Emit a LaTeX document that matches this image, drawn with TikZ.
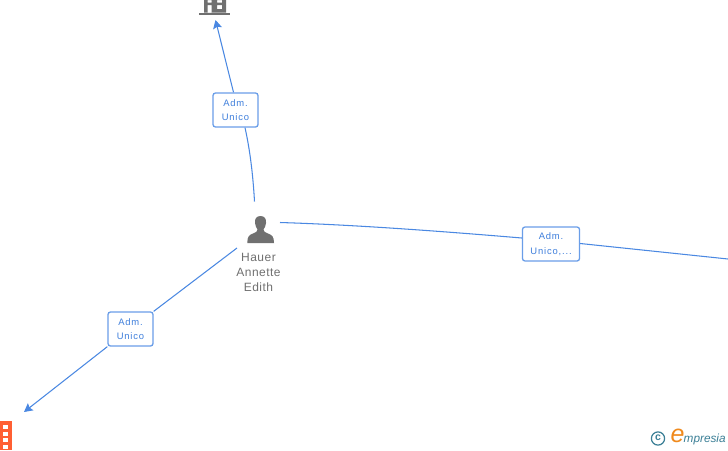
\documentclass[tikz,border=0pt]{standalone}
\usepackage{fontspec}
\setmainfont{Liberation Sans}
\definecolor{linkblue}{HTML}{4A88E2}
\definecolor{boxblue}{HTML}{6A9EE8}
\definecolor{textblue}{HTML}{3F7FDC}
\definecolor{icongrey}{HTML}{707070}
\definecolor{orangeic}{HTML}{FF5F33}
\definecolor{teallogo}{HTML}{3B7F96}
\definecolor{orangelogo}{HTML}{F08A1D}
\usetikzlibrary{arrows.meta}
\tikzset{
  linkline/.style={draw=linkblue,line width=1.05pt},
  linkarrow/.style={linkline,-{Stealth[length=8.5pt,width=9pt,inset=1.5pt]}},
  rolebox/.style={draw=boxblue,line width=1.3pt,rounded corners=2.5pt,fill=white,minimum height=34pt,inner sep=0pt,align=center,text=textblue,font=\fontsize{9.4}{14.5}\selectfont\addfontfeatures{LetterSpace=9}},
  personlabel/.style={text=icongrey,align=center,font=\fontsize{12}{15}\selectfont\addfontfeatures{LetterSpace=4},inner sep=0pt},
}
\begin{document}
\begin{tikzpicture}[x=1pt,y=-1pt]
\useasboundingbox (0,0) rectangle (728,450);
\fill[white] (0,0) rectangle (728,450);
% anchors
\coordinate (buildtip) at (215.5,20);
\coordinate (persontop) at (254.5,201.5);
\coordinate (personright) at (280,222.5);
\coordinate (personleft) at (237,248);
\coordinate (rightend) at (728,259);
\coordinate (orangetip) at (24,412);
% nodes
\node[rolebox,minimum width=45pt] (r1) at (235.5,110) {Adm.\\Unico};
\node[rolebox,minimum width=45pt] (r2) at (130.5,329) {Adm.\\Unico};
\node[rolebox,minimum width=57pt] (r3) at (551,244) {Adm.\\Unico,...};
\node[personlabel] (pname) at (258.5,272) {Hauer\\Annette\\Edith};
% connectors
\draw[linkline] (persontop) .. controls (253,175) and (250,150) .. (r1.south -| 245,0);
\draw[linkarrow] (r1.north -| 233.5,0) -- (buildtip);
\draw[linkline] (personleft) -- (r2.north east);
\draw[linkarrow] (r2.south west) -- (orangetip);
\draw[linkline] (personright) .. controls (360,225) and (450,232) .. (r3.west |- 0,238);
\draw[linkline] (r3.east |- 0,243.5) -- (rightend);
% person icon
\fill[icongrey] (260.5,216) .. controls (256,216) and (254.5,219.5) .. (255,223) .. controls (255.3,226) and (256.5,228) .. (257.5,229.5) .. controls (257.5,231.5) and (256,232.5) .. (253,233.5) .. controls (249,235) and (247.3,236.5) .. (247.3,243) -- (274,243) .. controls (274,236.5) and (272,235) .. (268,233.5) .. controls (265,232.5) and (263.5,231.5) .. (263.5,229.5) .. controls (264.5,228) and (265.8,226) .. (266,223) .. controls (266.5,219.5) and (265,216) .. (260.5,216) -- cycle;
% building icon
\fill[icongrey] (198.5,12.7) rectangle (230,15);
\fill[icongrey,even odd rule] (204,0) rectangle (226,12.7)
  (207.7,5) rectangle (211.7,12.7) (217,5) rectangle (222,9) (207.7,0) rectangle (211.7,2.7) (217,0) rectangle (222,2.7);
% orange icon
\fill[orangeic] (0,421) rectangle (12.3,450);
\foreach \yy in {425,431.7,438.2,445}{\fill[white] (3.3,\yy) rectangle (8,\yy+4);}
% logo
\draw[teallogo,line width=1.2pt] (658,438.5) circle (6.6pt);
\node[text=teallogo,font=\fontsize{10.5}{10.5}\selectfont\bfseries,inner sep=0pt] (copyr) at (658,438) {c};
\node[text=orangelogo,font=\fontsize{25}{25}\selectfont\itshape,inner sep=0pt] (elogo) at (677.5,436) {e};
\node[text=teallogo,font=\fontsize{11.8}{12}\selectfont\itshape,inner sep=0pt,anchor=west] (wordlogo) at (683.5,439.5) {mpresia};
\end{tikzpicture}
\end{document}
